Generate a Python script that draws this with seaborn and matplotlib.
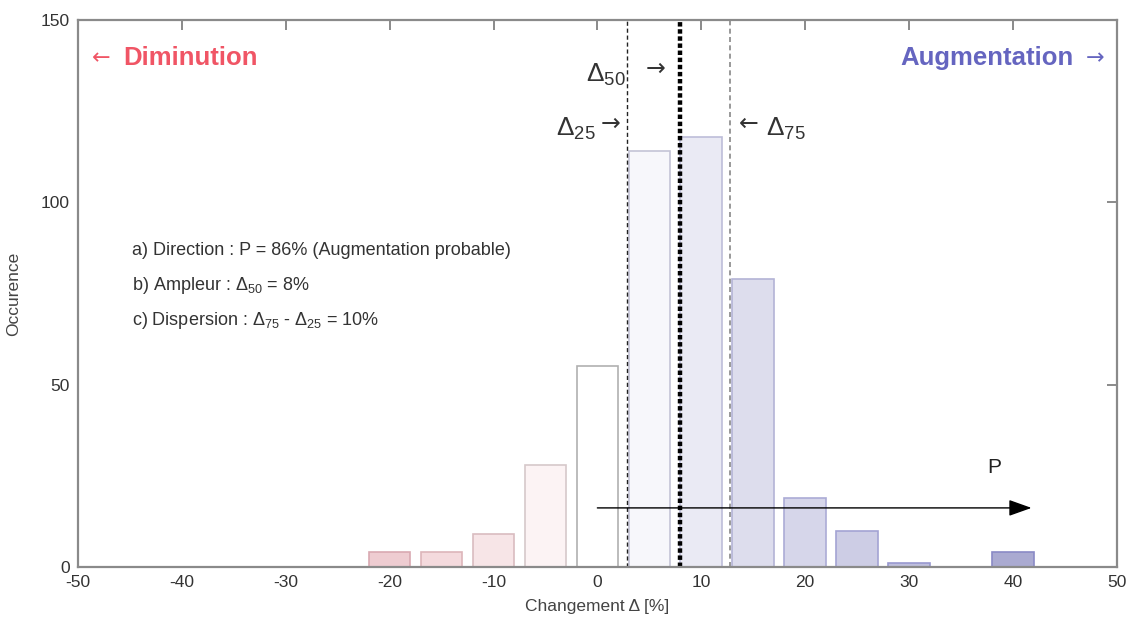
import matplotlib
matplotlib.use('Agg')
import matplotlib.pyplot as plt
import numpy as np
import seaborn as sns

# données
centres = [-20, -15, -10, -5, 0, 5, 10, 15, 20, 25, 30, 40]
occurences = [4, 4, 9, 28, 55, 114, 118, 79, 19, 10, 1, 4]
couleurs = ['#f4c6cd', '#f8d6da', '#fae2e5', '#fdf2f3', '#ffffff', '#f6f6fc',
            '#e8e8f6', '#dadaf0', '#d3d3ed', '#c9c9e9', '#b9b9e2', '#a3a3d8']
bords = ['#d9a9b1', '#ddb5ba', '#d9bcc0', '#d6c8ca', '#b0b0b0', '#c4c4d6',
         '#bdbdd9', '#b3b3d6', '#ababd6', '#a3a3d3', '#9898cf', '#8a8ac6']
delta_25, delta_50, delta_75 = 2.9, 8.0, 12.8
xticks = [-50, -40, -30, -20, -10, 0, 10, 20, 30, 40, 50]
yticks = [0, 50, 100, 150]

sns.set_style('white')
plt.rcParams['font.family'] = ['Liberation Sans', 'DejaVu Sans']
plt.rcParams['axes.unicode_minus'] = False
plt.rcParams['mathtext.fontset'] = 'custom'
plt.rcParams['mathtext.rm'] = 'Liberation Sans'
plt.rcParams['mathtext.it'] = 'Liberation Sans'

fig = plt.figure(figsize=(11.36, 6.29), dpi=100)
ax = fig.add_axes([0.0687, 0.0986, 0.9143, 0.8696])

sns.barplot(x=centres, y=occurences, hue=centres, palette=dict(zip(centres, couleurs)),
            native_scale=True, width=0.8, legend=False, ax=ax, linewidth=1.2)
for p in ax.patches:
    c = p.get_x() + p.get_width() / 2
    i = int(np.argmin([abs(c - v) for v in centres]))
    p.set_edgecolor(bords[i])

ax.set_xlim(-50, 50)
ax.set_ylim(0, 150)
ax.set_xticks(xticks)
ax.set_yticks(yticks)
ax.tick_params(direction='in', length=7, width=1.2, top=True, right=True,
               labelsize=12.5, labelcolor='#333333', color='#777777', pad=6)
for s in ax.spines.values():
    s.set_color('#8a8a8a')
    s.set_linewidth(1.6)
ax.set_xlabel('Changement Δ [%]', fontsize=12.5, color='#444444', labelpad=6)
ax.set_ylabel('Occurence', fontsize=12.5, color='#444444', labelpad=14)

# quantiles
ax.axvline(delta_25, color='#222222', ls=(0, (3, 2)), lw=1.0)
ax.axvline(delta_50, color='black', ls=(0, (1, 0.6)), lw=3.2)
ax.axvline(delta_75, color='#888888', ls=(0, (3, 2)), lw=1.2)

tc = '#333333'
fl = ['DejaVu Sans']
ax.text(2.7, 135, r'$\Delta_{50}$', fontsize=19, ha='right', va='center', color=tc)
ax.text(5.6, 136.5, '→', fontsize=17, family=fl, ha='center', va='center', color=tc)
ax.text(-0.2, 120, r'$\Delta_{25}$', fontsize=19, ha='right', va='center', color=tc)
ax.text(1.3, 121.5, '→', fontsize=17, family=fl, ha='center', va='center', color=tc)
ax.text(14.6, 121.5, '←', fontsize=17, family=fl, ha='center', va='center', color=tc)
ax.text(16.2, 120, r'$\Delta_{75}$', fontsize=19, ha='left', va='center', color=tc)

ax.text(-48.7, 139.6, '←', fontsize=16, family=fl, color='#f05565', ha='left', va='center')
ax.text(-45.6, 139.6, 'Diminution', fontsize=18.5, fontweight='bold',
        color='#f05565', ha='left', va='center')
ax.text(48.8, 139.6, '→', fontsize=16, family=fl, color='#6565c0', ha='right', va='center')
ax.text(45.9, 139.6, 'Augmentation', fontsize=18.5, fontweight='bold',
        color='#6565c0', ha='right', va='center')

ax.text(-44.8, 86.9, 'a) Direction : P = 86% (Augmentation probable)',
        fontsize=13, color=tc, va='center')
ax.text(-44.8, 77.3, r'b) Ampleur : $\Delta_{50}$ = 8%', fontsize=13, color=tc, va='center')
ax.text(-44.8, 67.7, r'c) Dispersion : $\Delta_{75}$ - $\Delta_{25}$ = 10%',
        fontsize=13, color=tc, va='center')

# direction P
ax.annotate('', xy=(41.8, 16.2), xytext=(0, 16.2),
            arrowprops=dict(arrowstyle='-|>,head_length=1.4,head_width=0.5',
                            color='black', lw=1.0, shrinkA=0, shrinkB=0))
ax.text(38.2, 27.4, 'P', fontsize=15, color='#222222', ha='center', va='center')

fig.savefig('out.png', dpi=100)
